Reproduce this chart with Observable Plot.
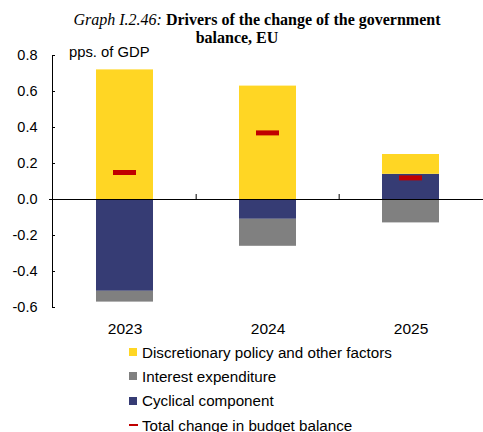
<!DOCTYPE html>
<html><head><meta charset="utf-8">
<script src="https://cdn.jsdelivr.net/npm/d3@7"></script>
<script src="https://cdn.jsdelivr.net/npm/@observablehq/plot@0.6"></script>
<style>
html,body{margin:0;padding:0;background:#fff;}
body{width:483px;height:432px;overflow:hidden;position:relative;font-family:"Liberation Sans",Arial,sans-serif;color:#000;}
.t{position:absolute;left:0;z-index:2;text-align:center;font-family:"Liberation Serif","Times New Roman",serif;font-size:16px;line-height:18px;white-space:nowrap;}
#unit{position:absolute;z-index:2;left:69px;top:44px;font-size:14.8px;line-height:16px;}
#chart{position:absolute;left:0;top:40px;z-index:1;}
#legend{position:absolute;left:129px;top:340px;font-size:15.2px;}
.row{height:24.3px;display:flex;align-items:center;white-space:nowrap;}
.sw{width:8px;height:8px;margin-right:5px;flex:none;}
.ln{width:9px;height:2.5px;margin-right:4px;flex:none;}
</style></head>
<body>
<div class="t" style="top:11px;width:514px;"><i>Graph I.2.46:</i> <b>Drivers of the change of the government</b></div>
<div class="t" style="top:29px;width:474px;"><b>balance, EU</b></div>
<div id="unit">pps. of GDP</div>
<div id="chart"></div>
<div id="legend"></div>
<script>
const years = ["2023", "2024", "2025"];
const seriesNames = ["Discretionary policy and other factors", "Interest expenditure", "Cyclical component"];
const discretionary = [0.72, 0.63, 0.11];
const interest = [-0.06, -0.15, -0.13];
const cyclical = [-0.51, -0.11, 0.14];
const total = [0.15, 0.37, 0.12];
const totalName = "Total change in budget balance";
const yTicks = [-0.6, -0.4, -0.2, 0.0, 0.2, 0.4, 0.6, 0.8];
const colors = ["#FFD624", "#808080", "#363C74"];
const totalColor = "#C00000";

const long = [];
years.forEach((y, i) => {
  long.push({year: y, series: seriesNames[2], value: cyclical[i]});
  long.push({year: y, series: seriesNames[0], value: discretionary[i]});
  long.push({year: y, series: seriesNames[1], value: interest[i]});
});
const totals = years.map((y, i) => ({year: y, total: total[i]}));

const W = 483, H = 300, mL = 52, mR = 0;
const step = (W - mL - mR) / years.length;

const chart = Plot.plot({
  width: W, height: H,
  marginTop: 15, marginBottom: 33, marginLeft: mL, marginRight: mR,
  style: {fontFamily: "'Liberation Sans', Arial, sans-serif", background: "transparent", color: "#000"},
  x: {domain: years, paddingInner: 0.6, paddingOuter: 0.3, label: null},
  y: {domain: [-0.6, 0.8], label: null},
  color: {domain: seriesNames, range: colors},
  marks: [
    Plot.barY(long, {x: "year", y: "value", fill: "series", order: [seriesNames[2], seriesNames[0], seriesNames[1]]}),
    Plot.tickY(totals, {x: "year", y: "total", stroke: totalColor, strokeWidth: 5, insetLeft: 17, insetRight: 17}),
    Plot.ruleY([0], {stroke: "#000", strokeWidth: 1, insetLeft: -3}),
    Plot.ruleX(years.slice(1), {x: d => d, y1: 0, y2: 0, insetTop: -5, dx: -step / 2, stroke: "#000"}),
    Plot.frame({anchor: "left", stroke: "#000"}),
    Plot.axisY({ticks: yTicks, tickFormat: d => d.toFixed(1), tickSize: 3, dx: 3, tickPadding: 15, fontSize: 14.5, label: null}),
    Plot.axisX({tickSize: 0, tickPadding: 15, fontSize: 15.5, label: null})
  ]
});
document.getElementById("chart").appendChild(chart);

const legend = document.getElementById("legend");
seriesNames.forEach((n, i) => {
  const r = document.createElement("div"); r.className = "row";
  const s = document.createElement("span"); s.className = "sw"; s.style.background = colors[i];
  const t = document.createElement("span"); t.textContent = n;
  r.appendChild(s); r.appendChild(t); legend.appendChild(r);
});
{
  const r = document.createElement("div"); r.className = "row";
  const s = document.createElement("span"); s.className = "ln"; s.style.background = totalColor;
  const t = document.createElement("span"); t.textContent = totalName;
  r.appendChild(s); r.appendChild(t); legend.appendChild(r);
}
</script>
</body></html>
